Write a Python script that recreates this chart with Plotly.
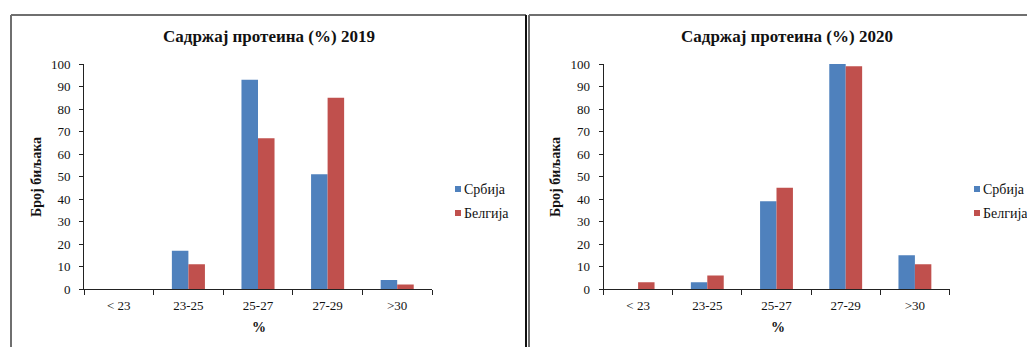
import plotly.graph_objects as go

W, H = 1027, 347

categories = ["< 23", "23-25", "25-27", "27-29", ">30"]
srbija_2019 = [0, 17, 93, 51, 4]
belgija_2019 = [0, 11, 67, 85, 2]
srbija_2020 = [0, 3, 39, 100, 15]
belgija_2020 = [3, 6, 45, 99, 11]
series_names = ["Србија", "Белгија"]
series_colors = ["#4f81bd", "#c0504d"]
titles = ["Садржај протеина (%) 2019", "Садржај протеина (%) 2020"]
y_title = "Број биљака"
x_title = "%"
y_ticks = list(range(0, 101, 10))

SERIF = "Times New Roman, Liberation Serif, Tinos, DejaVu Serif, serif"
TXT = "#111111"


def px(x):
    return x / W


def py(y):
    return 1 - y / H


fig = go.Figure()

panels = [
    dict(xa="x", ya="y", vals=[srbija_2019, belgija_2019], dom=(84, 432), off=0),
    dict(xa="x2", ya="y2", vals=[srbija_2020, belgija_2020], dom=(603.5, 949.5), off=519),
]

for p in panels:
    for name, color, vals in zip(series_names, series_colors, p["vals"]):
        fig.add_trace(go.Bar(
            x=categories, y=vals, name=name, marker=dict(color=color, line=dict(width=0)),
            xaxis=p["xa"], yaxis=p["ya"], showlegend=False,
        ))

y_dom = [py(289), py(64)]
axis_common = dict(showgrid=False, zeroline=False, showline=True, linecolor="#222222",
                   linewidth=1, ticks="outside", tickcolor="#222222", tickwidth=1,
                   automargin=False,
                   tickfont=dict(family=SERIF, size=13, color=TXT))

for i, p in enumerate(panels):
    sfx = "" if i == 0 else "2"
    fig.update_layout(**{
        f"xaxis{sfx}": dict(axis_common, domain=[px(p["dom"][0]), px(p["dom"][1])],
                            anchor=f"y{sfx}", type="category", tickson="boundaries",
                            ticklen=5, range=[-0.5, 4.5], ticklabelstandoff=4),
        f"yaxis{sfx}": dict(axis_common, domain=y_dom, anchor=f"x{sfx}", range=[0, 100],
                            tickvals=y_ticks, ticklen=4, ticklabelstandoff=6),
    })

annotations = []
shapes = []
title_cx = [268.5, 786.5]
for i, p in enumerate(panels):
    off = p["off"]
    annotations.append(dict(text=f"<b>{titles[i]}</b>", x=px(title_cx[i]),
                            y=py(37), xref="paper", yref="paper", showarrow=False,
                            xanchor="center", yanchor="middle",
                            font=dict(family=SERIF, size=17, color=TXT)))
    annotations.append(dict(text=f"<b>{y_title}</b>", x=px(37 + off), y=py(177),
                            xref="paper", yref="paper", showarrow=False, textangle=-90,
                            xanchor="center", yanchor="middle",
                            font=dict(family=SERIF, size=14, color=TXT)))
    annotations.append(dict(text=f"<b>{x_title}</b>", x=px(259 + off), y=py(327),
                            xref="paper", yref="paper", showarrow=False,
                            xanchor="center", yanchor="middle",
                            font=dict(family=SERIF, size=14, color=TXT)))
    # legend keys
    for k, (name, color) in enumerate(zip(series_names, series_colors)):
        cy = 189 + 24 * k
        cx = 458 + off
        shapes.append(dict(type="rect", xref="paper", yref="paper",
                           x0=px(cx - 3), x1=px(cx + 3), y0=py(cy + 3), y1=py(cy - 3),
                           fillcolor=color, line=dict(width=0)))
        annotations.append(dict(text=name, x=px(cx + 4), y=py(cy), xref="paper", yref="paper",
                                showarrow=False, xanchor="left", yanchor="middle",
                                font=dict(family=SERIF, size=14, color=TXT)))

# chart frames
gray = "#6f6f6f"
shapes += [
    dict(type="line", xref="paper", yref="paper", x0=px(11), x1=px(526), y0=py(15), y1=py(15),
         line=dict(color=gray, width=2)),
    dict(type="line", xref="paper", yref="paper", x0=px(11), x1=px(11), y0=py(15), y1=py(350),
         line=dict(color=gray, width=2)),
    dict(type="line", xref="paper", yref="paper", x0=px(526), x1=px(526), y0=py(15), y1=py(350),
         line=dict(color="#111111", width=2)),
    dict(type="line", xref="paper", yref="paper", x0=px(529), x1=px(1030), y0=py(15), y1=py(15),
         line=dict(color=gray, width=2)),
    dict(type="line", xref="paper", yref="paper", x0=px(529), x1=px(529), y0=py(15), y1=py(350),
         line=dict(color=gray, width=2)),
]

fig.update_layout(
    width=W, height=H, margin=dict(l=0, r=0, t=0, b=0, pad=0),
    paper_bgcolor="white", plot_bgcolor="white",
    barmode="group", bargap=0.525, bargroupgap=0,
    annotations=annotations, shapes=shapes, showlegend=False,
)

fig.write_html("out.html")
